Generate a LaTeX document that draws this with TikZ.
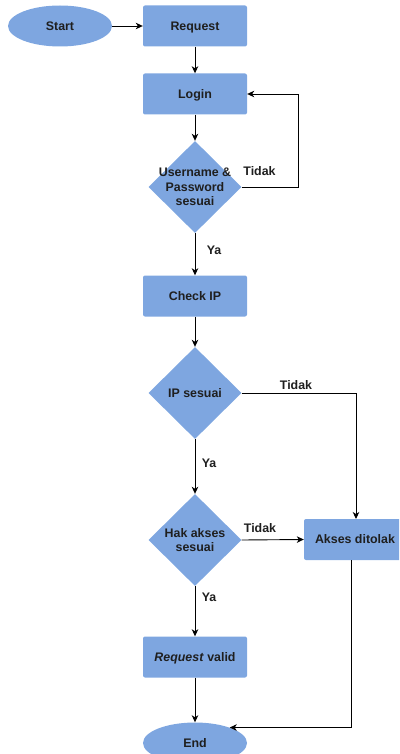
\documentclass[tikz,border=0pt]{standalone}
\usepackage{fontspec}
\setmainfont{Liberation Sans}
\usetikzlibrary{shapes.geometric,arrows.meta}
\definecolor{boxblue}{HTML}{7EA6E0}
\definecolor{txt}{HTML}{1F1F1F}
\tikzset{
  x=1pt, y=-1pt,
  base/.style={fill=boxblue, draw=none, text=txt, inner sep=0pt,
    font=\fontsize{12.4}{14.5}\selectfont\bfseries, align=center},
  stepbox/.style={base, rectangle, rounded corners=2pt, minimum width=104pt, minimum height=41pt,
    text height=8.9pt, text depth=0pt},
  terminal/.style={base, ellipse, minimum width=104pt, minimum height=41pt,
    text height=8.9pt, text depth=0pt},
  decision/.style={base, diamond, aspect=1, minimum width=93pt, minimum height=92pt},
  flow/.style={draw=black, line width=0.9pt, -{Stealth[length=7pt,width=6.5pt,inset=2pt]}},
  edgelabel/.style={text=txt, font=\fontsize{12.4}{14.5}\selectfont\bfseries, inner sep=0pt}
}
\begin{document}
\begin{tikzpicture}
\useasboundingbox (0,0) rectangle (399,754);
\clip (0,0) rectangle (399,754);

% process nodes
\node[terminal] (start) at (60,26) {Start};
\node[stepbox] (request) at (195,26) {Request};
\node[stepbox] (login) at (195,94) {Login};
\node[decision, label={[text=txt, font=\fontsize{12.4}{14.5}\selectfont\bfseries, align=center]center:Username \&\\Password\\sesuai}] (cred) at (195,187) {};
\node[stepbox] (checkip) at (195,296) {Check IP};
\node[decision, label={[text=txt, font=\fontsize{12.4}{14.5}\selectfont\bfseries, align=center]center:IP sesuai}] (ipok) at (195,393) {};
\node[decision, label={[text=txt, font=\fontsize{12.4}{14.5}\selectfont\bfseries, align=center]center:Hak akses\\sesuai}] (hak) at (195,540) {};
\node[stepbox, minimum width=102pt] (akses) at (355,539.5) {Akses ditolak};
\node[stepbox] (valid) at (195,657) {\textit{Request} valid};
\node[terminal] (endn) at (195,743) {End};

% connector helpers
\coordinate (aksTop) at (356,519);
\coordinate (aksBot) at (351,560);

% connectors
\draw[flow] (start.east) -- (request.west);
\draw[flow] (request.south) -- (login.north);
\draw[flow] (login.south) -- (cred.north);
\draw[flow] (cred.east) -- ++(57,0) |- (login.east);
\draw[flow] (cred.south) -- (checkip.north);
\draw[flow] (checkip.south) -- (ipok.north);
\draw[flow] (ipok.east) -| (aksTop);
\draw[flow] (ipok.south) -- (hak.north);
\draw[flow] (hak.east) -- (akses.west);
\draw[flow] (hak.south) -- (valid.north);
\draw[flow] (valid.south) -- (endn.north);
\draw[flow] (aksBot) |- (endn.24);

% edge labels
\node[edgelabel] (lt1) at (259.5,171) {Tidak};
\node[edgelabel] (ly1) at (214,250) {Ya};
\node[edgelabel] (lt2) at (296,385) {Tidak};
\node[edgelabel] (ly2) at (209,463) {Ya};
\node[edgelabel] (lt3) at (260,528) {Tidak};
\node[edgelabel] (ly3) at (209,597) {Ya};
\end{tikzpicture}
\end{document}
